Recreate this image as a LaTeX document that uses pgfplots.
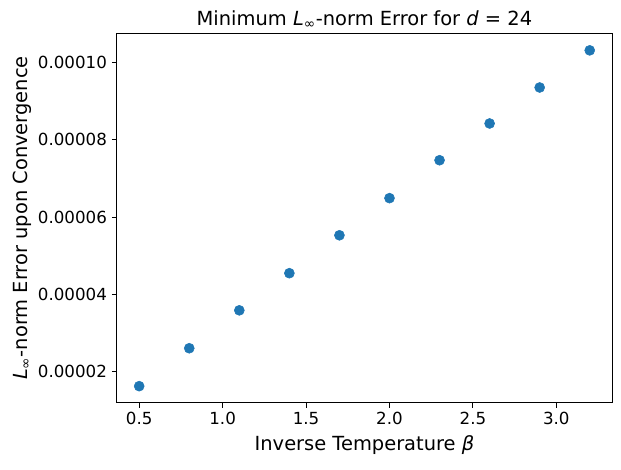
\documentclass[border=0pt]{standalone}
\usepackage{pgfplots}
\pgfplotsset{compat=1.18}
\usepackage{fontspec}
\setmainfont{DejaVu Sans}
\definecolor{tabblue}{HTML}{1F77B4}
\begin{document}
\begin{tikzpicture}
\useasboundingbox (-84pt,-47.7pt) rectangle (363.1pt,290pt);
\begin{axis}[
  at={(0,0)}, anchor=south west,
  scale only axis,
  width=356.8pt, height=266pt,
  xmin=0.365, xmax=3.335,
  ymin=0.0000120, ymax=0.0001075,
  xtick={0.5,1.0,1.5,2.0,2.5,3.0},
  ytick={0.00002,0.00004,0.00006,0.00008,0.00010},
  scaled y ticks=false,
  scaled x ticks=false,
  xticklabel style={/pgf/number format/.cd, fixed, fixed zerofill, precision=1},
  yticklabel style={/pgf/number format/.cd, fixed, fixed zerofill, precision=5},
  /pgf/number format/assume math mode=true,
  tick align=outside,
  tick pos=left,
  major tick length=3.5pt,
  every tick/.style={black, line width=0.8pt},
  axis line style={line width=0.8pt},
  tick label style={font=\fontsize{12}{14}\selectfont},
  label style={font=\fontsize{14}{17}\selectfont},
  title style={font=\fontsize{14}{17}\selectfont, yshift=-6pt},
  title={Minimum \textit{L}\textsubscript{∞}-norm Error for \textit{d} = 24},
  xlabel={Inverse Temperature \textit{β}},
  ylabel={\textit{L}\textsubscript{∞}-norm Error upon Convergence},
  xlabel style={yshift=-1pt},
  ylabel style={yshift=-2pt},
]
\addplot[only marks, mark=*, mark size=3.6pt, color=tabblue, mark options={draw=none, fill=tabblue}] coordinates {
(0.5,0.0000163)
(0.8,0.0000261)
(1.1,0.0000359)
(1.4,0.0000455)
(1.7,0.0000553)
(2.0,0.0000649)
(2.3,0.0000747)
(2.6,0.0000842)
(2.9,0.0000935)
(3.2,0.0001031)
};
\end{axis}
\end{tikzpicture}
\end{document}
